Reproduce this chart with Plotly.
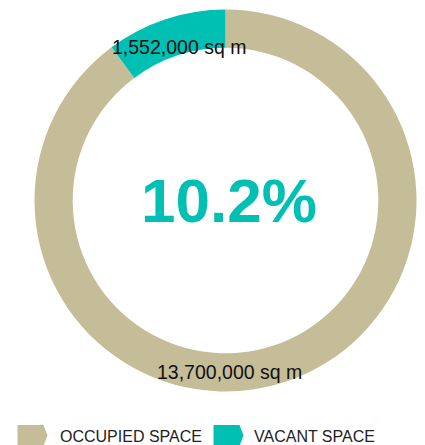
import plotly.graph_objects as go

# Space breakdown (sq m)
categories = ["OCCUPIED SPACE", "VACANT SPACE"]
space_sqm = [13700000, 1552000]
slice_labels = ["13,700,000 sq m", "1,552,000 sq m"]
colors = ["#c5bd98", "#00bfb3"]

W, H = 425, 445
total = sum(space_sqm)
vacancy_rate = space_sqm[1] / total * 100


def px(x):
    return x / W


def py(y):
    return 1 - y / H


# donut geometry (pixels)
cx, cy, r = 225.5, 200.5, 191.0

fig = go.Figure(
    go.Pie(
        labels=categories,
        values=space_sqm,
        marker=dict(colors=colors, line=dict(width=0)),
        hole=0.80,
        sort=False,
        direction="clockwise",
        rotation=0,
        textinfo="none",
        hoverinfo="label+value",
        showlegend=False,
        domain=dict(x=[px(cx - r), px(cx + r)], y=[py(cy + r), py(cy - r)]),
    )
)

FONT = "Arial, Liberation Sans, sans-serif"

annotations = [
    dict(
        text=f"<b>{vacancy_rate:.1f}%</b>",
        x=px(229), y=py(200), xref="paper", yref="paper",
        showarrow=False,
        font=dict(family=FONT, size=62, color=colors[1]),
        xanchor="center", yanchor="middle",
    ),
    dict(
        text=slice_labels[1],
        x=px(178.5), y=py(47), xref="paper", yref="paper",
        showarrow=False,
        font=dict(family=FONT, size=19.5, color="#111111"),
        xanchor="center", yanchor="middle",
    ),
    dict(
        text=slice_labels[0],
        x=px(230), y=py(372), xref="paper", yref="paper",
        showarrow=False,
        font=dict(family=FONT, size=19.5, color="#111111"),
        xanchor="center", yanchor="middle",
    ),
]

# custom legend with arrow-shaped swatches
shapes = []
legend_items = [(17.5, 58), (213.5, 252)]
for (x0, tx), name, col in zip(legend_items, categories, colors):
    top, bot, mid = 425, 446, 435.5
    body, tip = x0 + 26, x0 + 30
    path = (
        f"M {px(x0)} {py(top)} L {px(body)} {py(top)} L {px(tip)} {py(mid)} "
        f"L {px(body)} {py(bot)} L {px(x0)} {py(bot)} Z"
    )
    shapes.append(dict(type="path", path=path, xref="paper", yref="paper",
                       fillcolor=col, line=dict(width=0)))
    annotations.append(dict(
        text=name, x=px(tx), y=py(436), xref="paper", yref="paper",
        showarrow=False, xanchor="left", yanchor="middle",
        font=dict(family=FONT, size=16, color="#222222"),
    ))

fig.update_layout(
    width=W, height=H,
    margin=dict(l=0, r=0, t=0, b=0),
    paper_bgcolor="white", plot_bgcolor="white",
    annotations=annotations,
    shapes=shapes,
)

fig.write_html("out.html", config={"displayModeBar": False})
